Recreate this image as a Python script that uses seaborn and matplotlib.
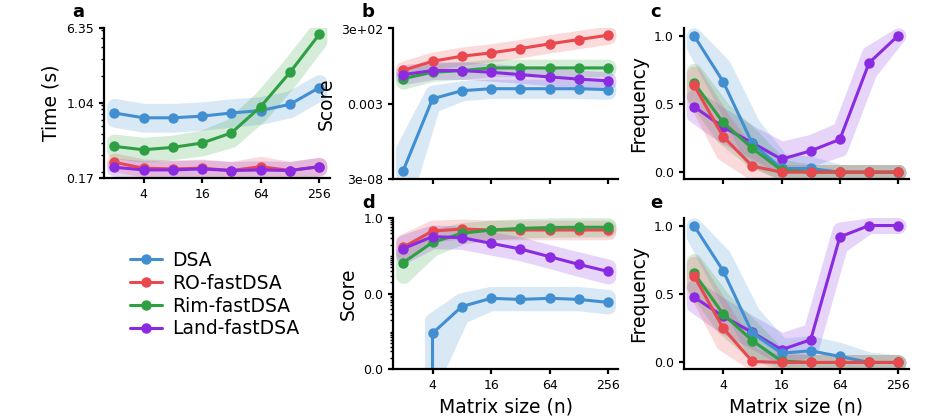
import numpy as np
import pandas as pd
import matplotlib
matplotlib.use("Agg")
import matplotlib.pyplot as plt
import matplotlib.ticker as mticker
from matplotlib.lines import Line2D
import seaborn as sns

# ---------------- data ----------------
sizes = [2, 4, 8, 16, 32, 64, 128, 256]
methods = ["DSA", "RO-fastDSA", "Rim-fastDSA", "Land-fastDSA"]
colors = ["#418fd1", "#e8484e", "#2ea043", "#8a2be2"]

# panel a: time (s)
time_dsa = [0.82, 0.73, 0.73, 0.76, 0.82, 0.87, 1.01, 1.51]
time_ro = [0.25, 0.217, 0.213, 0.217, 0.205, 0.225, 0.205, 0.225]
time_rim = [0.367, 0.338, 0.358, 0.398, 0.507, 0.955, 2.18, 5.45]
time_land = [0.222, 0.208, 0.208, 0.213, 0.205, 0.208, 0.205, 0.225]
time_dsa_lo = [0.70, 0.62, 0.62, 0.65, 0.70, 0.75, 0.88, 1.32]
time_dsa_hi = [0.97, 0.86, 0.86, 0.89, 0.96, 1.01, 1.16, 1.72]
time_ro_lo = [0.24, 0.21, 0.205, 0.21, 0.198, 0.215, 0.198, 0.215]
time_ro_hi = [0.26, 0.225, 0.22, 0.225, 0.212, 0.24, 0.212, 0.235]
time_rim_lo = [0.33, 0.30, 0.32, 0.35, 0.43, 0.80, 1.82, 4.6]
time_rim_hi = [0.41, 0.38, 0.40, 0.45, 0.60, 1.15, 2.6, 6.4]
time_land_lo = [0.215, 0.20, 0.20, 0.206, 0.198, 0.20, 0.198, 0.217]
time_land_hi = [0.23, 0.216, 0.216, 0.22, 0.212, 0.216, 0.212, 0.233]

# panel b: score
score_b_dsa = [1.1e-7, 6.4e-3, 2.2e-2, 3.0e-2, 3.0e-2, 3.0e-2, 3.0e-2, 2.6e-2]
score_b_ro = [0.5, 2.0, 4.3, 7.2, 13.9, 28.6, 55.6, 108.0]
score_b_rim = [0.14, 0.37, 0.48, 0.72, 0.72, 0.72, 0.72, 0.72]
score_b_land = [0.26, 0.48, 0.48, 0.37, 0.26, 0.18, 0.13, 0.10]
score_b_dsa_lo = [1e-9, 2.5e-3, 1.5e-2, 2.2e-2, 2.2e-2, 2.2e-2, 2.2e-2, 1.9e-2]
score_b_dsa_hi = [3e-6, 1.6e-2, 3.2e-2, 4.0e-2, 4.0e-2, 4.0e-2, 4.0e-2, 3.5e-2]
score_b_ro_lo = [0.4, 1.6, 3.5, 5.8, 11.0, 23.0, 45.0, 87.0]
score_b_ro_hi = [0.63, 2.5, 5.4, 9.0, 17.4, 36.0, 70.0, 135.0]
score_b_rim_lo = [0.09, 0.30, 0.40, 0.60, 0.60, 0.60, 0.60, 0.60]
score_b_rim_hi = [0.21, 0.45, 0.57, 0.86, 0.86, 0.86, 0.86, 0.86]
score_b_land_lo = [0.18, 0.40, 0.40, 0.31, 0.22, 0.15, 0.11, 0.083]
score_b_land_hi = [0.37, 0.57, 0.57, 0.44, 0.31, 0.22, 0.16, 0.12]

# panel c: frequency
freq_c_dsa = [1.0, 0.663, 0.21, 0.027, 0.027, 0.0, 0.0, 0.0]
freq_c_ro = [0.638, 0.26, 0.044, 0.0, 0.0, 0.0, 0.0, 0.0]
freq_c_rim = [0.655, 0.364, 0.174, 0.015, 0.0, 0.0, 0.0, 0.0]
freq_c_land = [0.48, 0.33, 0.215, 0.095, 0.156, 0.24, 0.80, 1.0]
freq_c_dsa_lo = [0.92, 0.52, 0.10, 0.0, 0.0, 0.0, 0.0, 0.0]
freq_c_dsa_hi = [1.0, 0.78, 0.35, 0.08, 0.06, 0.0, 0.0, 0.0]
freq_c_ro_lo = [0.55, 0.14, 0.0, 0.0, 0.0, 0.0, 0.0, 0.0]
freq_c_ro_hi = [0.72, 0.38, 0.10, 0.0, 0.0, 0.0, 0.0, 0.0]
freq_c_rim_lo = [0.56, 0.26, 0.09, 0.0, 0.0, 0.0, 0.0, 0.0]
freq_c_rim_hi = [0.74, 0.46, 0.26, 0.04, 0.0, 0.0, 0.0, 0.0]
freq_c_land_lo = [0.42, 0.27, 0.16, 0.04, 0.10, 0.17, 0.73, 1.0]
freq_c_land_hi = [0.55, 0.41, 0.28, 0.17, 0.22, 0.31, 0.87, 1.0]

# panel d: score
score_d_dsa = [0.0, 9.0e-4, 4.6e-3, 7.6e-3, 7.1e-3, 7.6e-3, 7.1e-3, 5.9e-3]
score_d_ro = [0.17, 0.46, 0.52, 0.49, 0.49, 0.49, 0.49, 0.49]
score_d_rim = [0.067, 0.23, 0.40, 0.49, 0.54, 0.57, 0.58, 0.58]
score_d_land = [0.157, 0.327, 0.307, 0.217, 0.154, 0.096, 0.060, 0.039]
score_d_dsa_lo = [0.0, 5e-5, 2.5e-3, 5.5e-3, 5.5e-3, 5.5e-3, 5.5e-3, 4.5e-3]
score_d_dsa_hi = [0.0, 1.9e-3, 6.5e-3, 9.5e-3, 9.5e-3, 9.5e-3, 9.5e-3, 8.0e-3]
score_d_ro_lo = [0.12, 0.38, 0.45, 0.43, 0.43, 0.43, 0.43, 0.43]
score_d_ro_hi = [0.24, 0.56, 0.60, 0.56, 0.56, 0.56, 0.56, 0.56]
score_d_rim_lo = [0.03, 0.16, 0.33, 0.43, 0.48, 0.50, 0.51, 0.51]
score_d_rim_hi = [0.12, 0.32, 0.48, 0.56, 0.61, 0.64, 0.65, 0.65]
score_d_land_lo = [0.10, 0.25, 0.24, 0.17, 0.12, 0.075, 0.046, 0.029]
score_d_land_hi = [0.23, 0.42, 0.39, 0.28, 0.20, 0.125, 0.08, 0.052]

# panel e: frequency
freq_e_dsa = [1.0, 0.67, 0.215, 0.068, 0.085, 0.044, 0.0, 0.0]
freq_e_ro = [0.634, 0.251, 0.007, 0.0, 0.0, 0.0, 0.0, 0.0]
freq_e_rim = [0.654, 0.354, 0.159, 0.01, 0.0, 0.0, 0.0, 0.0]
freq_e_land = [0.478, 0.337, 0.22, 0.093, 0.166, 0.917, 1.0, 1.0]
freq_e_dsa_lo = [0.92, 0.52, 0.10, 0.02, 0.03, 0.0, 0.0, 0.0]
freq_e_dsa_hi = [1.0, 0.78, 0.36, 0.12, 0.14, 0.09, 0.02, 0.0]
freq_e_ro_lo = [0.55, 0.14, 0.0, 0.0, 0.0, 0.0, 0.0, 0.0]
freq_e_ro_hi = [0.72, 0.38, 0.05, 0.0, 0.0, 0.0, 0.0, 0.0]
freq_e_rim_lo = [0.56, 0.26, 0.08, 0.0, 0.0, 0.0, 0.0, 0.0]
freq_e_rim_hi = [0.74, 0.46, 0.25, 0.03, 0.0, 0.0, 0.0, 0.0]
freq_e_land_lo = [0.42, 0.27, 0.16, 0.04, 0.10, 0.85, 1.0, 1.0]
freq_e_land_hi = [0.55, 0.41, 0.28, 0.16, 0.23, 0.97, 1.0, 1.0]

xtick_vals = [4, 16, 64, 256]
xtick_labels = ["4", "16", "64", "256"]

# ---------------- style ----------------
sns.set_style("ticks")
plt.rcParams.update({
    "font.family": ["DejaVu Sans"],
    "text.color": "black",
    "axes.labelcolor": "black",
    "xtick.color": "black",
    "ytick.color": "black",
    "axes.edgecolor": "black",
    "axes.linewidth": 1.6,
    "xtick.major.width": 1.6,
    "ytick.major.width": 1.6,
    "xtick.major.size": 3.5,
    "ytick.major.size": 3.5,
    "ytick.minor.width": 1.0,
    "ytick.minor.size": 2.0,
    "xtick.labelsize": 9,
    "ytick.labelsize": 9,
    "axes.labelsize": 13.5,
})

W, H = 928, 419
fig = plt.figure(figsize=(W / 100, H / 100), dpi=100)


def px_axes(left, top, right, bottom):
    return fig.add_axes([left / W, (H - bottom) / H, (right - left) / W, (bottom - top) / H])


class GroupAlpha:
    def __init__(self, a):
        self.a = a

    def __call__(self, im, dpi):
        im = im.copy()
        im[:, :, 3] *= self.a
        return im, 0, 0


BAND_ALPHA = 0.45


def draw_panel(ax, vals, los, his, order):
    rows = []
    for i in order:
        for n, v in zip(sizes, vals[i]):
            rows.append({"n": n, "value": v, "method": methods[i]})
    df = pd.DataFrame(rows)
    for k, i in enumerate(order):
        poly = ax.fill_between(sizes, los[i], his[i], facecolor=colors[i],
                               edgecolor=colors[i], linewidth=11,
                               joinstyle="round", zorder=1 + 0.01 * k)
        poly.set_agg_filter(GroupAlpha(BAND_ALPHA))
    sns.lineplot(data=df, x="n", y="value", hue="method",
                 hue_order=[methods[i] for i in order],
                 palette=[colors[i] for i in order],
                 marker="o", markersize=7.5, linewidth=2.2, mew=0,
                 errorbar=None, estimator=None, legend=False, ax=ax)
    ax.set_xscale("log", base=2)
    ax.set_xlim(2 * 2 ** -0.35, 256 * 2 ** 0.35)
    ax.set_xticks(xtick_vals)
    ax.set_xticklabels(xtick_labels)
    ax.xaxis.set_minor_locator(mticker.NullLocator())
    ax.set_xlabel("")
    sns.despine(ax=ax)


std_order = [0, 1, 2, 3]
freq_order = [3, 0, 2, 1]

# a
ax_a = px_axes(104, 28, 329.5, 178.3)
draw_panel(ax_a, [time_dsa, time_ro, time_rim, time_land],
           [time_dsa_lo, time_ro_lo, time_rim_lo, time_land_lo],
           [time_dsa_hi, time_ro_hi, time_rim_hi, time_land_hi], std_order)
ax_a.set_yscale("log")
ax_a.set_ylim(0.17, 6.35)
ax_a.set_yticks([0.17, 1.04, 6.35])
ax_a.set_yticklabels(["0.17", "1.04", "6.35"])
ax_a.yaxis.set_minor_locator(mticker.LogLocator(subs="all"))
ax_a.yaxis.set_minor_formatter(mticker.NullFormatter())
ax_a.set_ylabel("Time (s)")

# b
ax_b = px_axes(393, 28.5, 618.5, 179)
draw_panel(ax_b, [score_b_dsa, score_b_ro, score_b_rim, score_b_land],
           [score_b_dsa_lo, score_b_ro_lo, score_b_rim_lo, score_b_land_lo],
           [score_b_dsa_hi, score_b_ro_hi, score_b_rim_hi, score_b_land_hi], std_order)
ax_b.set_yscale("log")
ax_b.set_ylim(3e-8, 3e2)
ax_b.set_yticks([3e-8, 3e-3, 3e2])
ax_b.set_yticklabels(["3e-08", "0.003", "3e+02"])
ax_b.yaxis.set_minor_locator(mticker.NullLocator())
ax_b.tick_params(axis="x", labelbottom=False)
ax_b.set_ylabel("Score")

# c
ax_c = px_axes(683.7, 28, 908.5, 179)
draw_panel(ax_c, [freq_c_dsa, freq_c_ro, freq_c_rim, freq_c_land],
           [freq_c_dsa_lo, freq_c_ro_lo, freq_c_rim_lo, freq_c_land_lo],
           [freq_c_dsa_hi, freq_c_ro_hi, freq_c_rim_hi, freq_c_land_hi], freq_order)
ax_c.set_ylim(-0.05, 1.055)
ax_c.set_yticks([0.0, 0.5, 1.0])
ax_c.set_yticklabels(["0.0", "0.5", "1.0"])
ax_c.tick_params(axis="x", labelbottom=False)
ax_c.set_ylabel("Frequency")

# d
ax_d = px_axes(393, 218.3, 618.5, 369.3)
draw_panel(ax_d, [score_d_dsa, score_d_ro, score_d_rim, score_d_land],
           [score_d_dsa_lo, score_d_ro_lo, score_d_rim_lo, score_d_land_lo],
           [score_d_dsa_hi, score_d_ro_hi, score_d_rim_hi, score_d_land_hi], std_order)
ax_d.set_yscale("log")
ax_d.set_ylim(1e-4, 1.0)
ax_d.set_yticks([1e-4, 1e-2, 1.0])
ax_d.set_yticklabels(["0.0", "0.0", "1.0"])
ax_d.yaxis.set_minor_locator(mticker.LogLocator(subs="all"))
ax_d.yaxis.set_minor_formatter(mticker.NullFormatter())
ax_d.set_ylabel("Score")
ax_d.set_xlabel("Matrix size (n)")

# e
ax_e = px_axes(683.7, 218, 908.5, 369.3)
draw_panel(ax_e, [freq_e_dsa, freq_e_ro, freq_e_rim, freq_e_land],
           [freq_e_dsa_lo, freq_e_ro_lo, freq_e_rim_lo, freq_e_land_lo],
           [freq_e_dsa_hi, freq_e_ro_hi, freq_e_rim_hi, freq_e_land_hi], freq_order)
ax_e.set_ylim(-0.05, 1.055)
ax_e.set_yticks([0.0, 0.5, 1.0])
ax_e.set_yticklabels(["0.0", "0.5", "1.0"])
ax_e.set_ylabel("Frequency")
ax_e.set_xlabel("Matrix size (n)")

# panel letters
for letter, x, y in [("a", 72, 17), ("b", 362, 17), ("c", 650, 17),
                     ("d", 362, 208), ("e", 650, 208)]:
    fig.text(x / W, (H - y) / H, letter, fontsize=13, fontweight="bold",
             va="baseline", ha="left")

# legend
handles = [Line2D([0], [0], color=c, lw=2.2, marker="o", markersize=7.5, mew=0)
           for c in colors]
fig.legend(handles, methods, loc="upper left",
           bbox_to_anchor=(130 / W, (H - 251) / H), frameon=False,
           fontsize=13.5, borderpad=0, borderaxespad=0, handlelength=1.7,
           handletextpad=0.55, labelspacing=0.2)

fig.savefig("out.png", dpi=100)
